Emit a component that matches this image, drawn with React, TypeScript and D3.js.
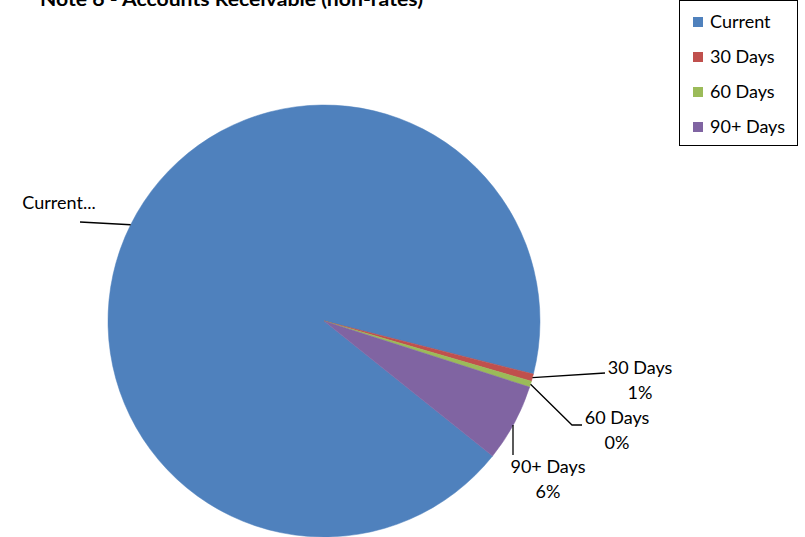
import { useEffect, useRef } from 'react';
import * as d3 from 'd3';

// Chart data
const categories = ['Current', '30 Days', '60 Days', '90+ Days'];
const values = [93.2, 0.55, 0.45, 5.8];
const colors = ['#4F81BD', '#C0504D', '#9BBB59', '#8064A2'];
const title = 'Note 6 - Accounts Receivable (non-rates)';

const width = 805;
const height = 537;

export default function App() {
  const svgRef = useRef<SVGSVGElement>(null);

  useEffect(() => {
    if (!svgRef.current) return;
    const svg = d3.select(svgRef.current);
    svg.selectAll('*').remove();

    const font = 'Lato, "Open Sans", sans-serif';
    const cx = 324;
    const cy = 321;
    const r = 216;
    const start = (128.7 * Math.PI) / 180;

    const data = categories.map((c, i) => ({ label: c, value: values[i], color: colors[i] }));
    const total = d3.sum(values);

    const pie = d3.pie<{ label: string; value: number; color: string }>()
      .value(d => d.value)
      .sort(null)
      .startAngle(start)
      .endAngle(start + 2 * Math.PI);

    const arc = d3.arc<d3.PieArcDatum<{ label: string; value: number; color: string }>>()
      .innerRadius(0)
      .outerRadius(r);

    const arcs = pie(data);

    const g = svg.append('g').attr('transform', `translate(${cx},${cy})`);

    g.selectAll('path')
      .data(arcs)
      .enter().append('path')
      .attr('d', arc)
      .attr('fill', d => d.data.color)
      .attr('stroke', d => d.data.color)
      .attr('stroke-width', 0.5);

    // Title (cut off at the top like the original)
    svg.append('text')
      .attr('x', 40)
      .attr('y', 6)
      .attr('textLength', 383)
      .attr('lengthAdjust', 'spacingAndGlyphs')
      .style('font-family', font)
      .style('font-weight', 'bold')
      .style('font-size', '18px')
      .text(title);

    // point on the rim at the middle of a slice
    const rim = (d: d3.PieArcDatum<any>) => {
      const a = (d.startAngle + d.endAngle) / 2;
      return [cx + Math.sin(a) * r, cy - Math.cos(a) * r];
    };

    // Leader lines + labels
    const labelSpecs = [
      { pts: [[80, 222]], x: 59, y: 209, name: 'Current...', pct: false },
      { pts: [[605, 373]], x: 640, y: 374, name: '30 Days', pct: true },
      { pts: [[572, 425], [582, 425]], x: 617, y: 424, name: '60 Days', pct: true },
      { pts: [[513, 425], [513, 455]], x: 548, y: 473, name: '90+ Days', pct: true },
    ];

    arcs.forEach((d, i) => {
      const spec = labelSpecs[i];
      const line = i === 3 ? spec.pts : [rim(d), ...spec.pts];
      svg.append('path')
        .attr('d', d3.line()(line as [number, number][]))
        .attr('fill', 'none')
        .attr('stroke', '#000')
        .attr('stroke-width', 1.3);

      const t = svg.append('text')
        .attr('x', spec.x)
        .attr('y', spec.y)
        .attr('text-anchor', 'middle')
        .style('font-family', font)
        .style('font-size', '18px')
        .attr('fill', '#000');
      t.append('tspan').attr('x', spec.x).text(spec.name);
      if (spec.pct) {
        t.append('tspan')
          .attr('x', spec.x)
          .attr('dy', 25)
          .text(`${Math.round((d.data.value / total) * 100)}%`);
      }
    });

    // Legend
    const legend = svg.append('g');
    legend.append('rect')
      .attr('x', 679.5)
      .attr('y', 0.5)
      .attr('width', 118)
      .attr('height', 145)
      .attr('fill', '#fff')
      .attr('stroke', '#000')
      .attr('stroke-width', 1);

    categories.forEach((c, i) => {
      const y = 22 + i * 35;
      legend.append('rect')
        .attr('x', 693)
        .attr('y', y - 5)
        .attr('width', 10)
        .attr('height', 10)
        .attr('fill', colors[i]);
      legend.append('text')
        .attr('x', 710)
        .attr('y', y + 6)
        .style('font-family', font)
        .style('font-size', '18px')
        .text(c);
    });
  }, []);

  return (
    <div style={{ position: 'absolute', left: 0, top: 0, background: '#fff' }}>
      <svg ref={svgRef} width={width} height={height} />
    </div>
  );
}
